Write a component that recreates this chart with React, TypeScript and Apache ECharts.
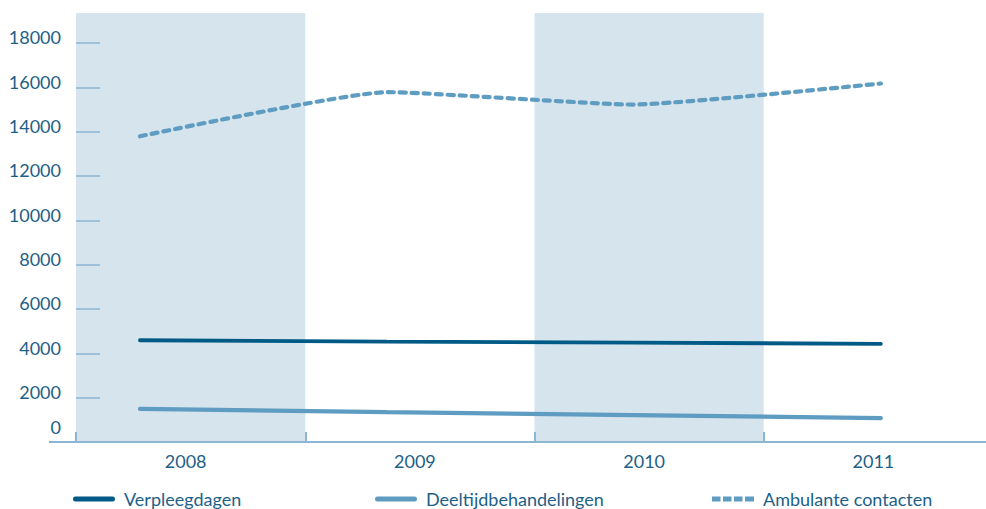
import React, { useEffect, useRef } from "react";
import * as echarts from "echarts";

const years = ["2008", "2009", "2010", "2011"];
const yearValues = [2008, 2009, 2010, 2011];
const verpleegdagen = [4590, 4530, 4480, 4430];
const deeltijdbehandelingen = [1490, 1350, 1215, 1080];
const ambulanteContacten = [13790, 15780, 15220, 16170];
const yTickValues = [0, 2000, 4000, 6000, 8000, 10000, 12000, 14000, 16000, 18000];
const seriesNames = ["Verpleegdagen", "Deeltijdbehandelingen", "Ambulante contacten"];

const TEXT = "#1d5f87";
const AXIS = "#8cb5d2";
const BAND = "#d6e4ee";
const DARK = "#005a86";
const LIGHT = "#5e9cc1";
const FONT = "Lato, 'Open Sans', sans-serif";

const SOLID_ICON = "path://M2.5,0H39.5A2.5,2.5 0 0 1 39.5,5H2.5A2.5,2.5 0 0 1 2.5,0Z";
const DASH_ICON =
  "path://M0,0h8.5v5h-8.5z M11,0h8.5v5h-8.5z M22,0h8.5v5h-8.5z M33,0h9v5h-9z";

export default function App() {
  const ref = useRef<HTMLDivElement>(null);
  useEffect(() => {
    if (!ref.current) return;
    const chart = echarts.init(ref.current, undefined, { renderer: "svg" });
    const pair = (vals: number[]) => vals.map((v, i) => [yearValues[i], v]);
    const legendBase = (name: string, left: number, icon: string) => ({
      data: [{ name, icon }],
      left,
      top: 490,
      padding: 0,
      orient: "horizontal",
      itemWidth: 42,
      itemHeight: 5,
      textStyle: { color: TEXT, fontSize: 18, fontFamily: FONT, padding: [0, 0, 0, 4] },
      selectedMode: false,
    });
    chart.setOption({
      animation: false,
      backgroundColor: "#ffffff",
      textStyle: { fontFamily: FONT },
      grid: {
        left: 76,
        width: 917,
        top: 13,
        bottom: 67,
        containLabel: false,
        outerBoundsMode: "none",
      },
      legend: [
        legendBase(seriesNames[0], 73, SOLID_ICON),
        legendBase(seriesNames[1], 375, SOLID_ICON),
        legendBase(seriesNames[2], 712, DASH_ICON),
      ],
      xAxis: [
        {
          type: "category",
          data: years,
          boundaryGap: true,
          axisLine: { show: true, lineStyle: { color: AXIS, width: 2 } },
          axisTick: { show: true, inside: true, length: 10, interval: 0, lineStyle: { color: AXIS, width: 2 } },
          axisLabel: { color: TEXT, fontSize: 18, fontFamily: FONT, margin: 10, padding: [0, 10, 0, 0] },
          splitLine: { show: false },
          splitArea: { show: true, interval: 0, areaStyle: { color: [BAND, "rgba(255,255,255,0)"] } },
        },
        {
          type: "value",
          show: false,
          min: 2007.741,
          max: 2011.454,
          splitLine: { show: false },
        },
      ],
      yAxis: {
        type: "value",
        min: 0,
        max: 19350,
        interval: 2000,
        axisLine: { show: false },
        axisTick: {
          show: true,
          inside: true,
          length: 24,
          customValues: yTickValues.slice(1),
          lineStyle: { color: AXIS, width: 1.5 },
        },
        axisLabel: {
          color: TEXT,
          fontSize: 18,
          fontFamily: FONT,
          margin: 15,
          customValues: yTickValues,
          formatter: (v: number) => (v === 0 ? "{z|0}" : "{n|" + v + "}"),
          rich: {
            n: { color: TEXT, fontSize: 18, fontFamily: FONT, padding: [0, 0, 11, 0] },
            z: { color: TEXT, fontSize: 18, fontFamily: FONT, padding: [0, 0, 30, 0] },
          },
        },
        splitLine: { show: false },
      },
      graphic: [
        {
          type: "line",
          shape: { x1: 49, y1: 442, x2: 77, y2: 442 },
          style: { stroke: AXIS, lineWidth: 2 },
          silent: true,
        },
      ],
      series: [
        {
          name: seriesNames[0],
          type: "line",
          xAxisIndex: 1,
          data: pair(verpleegdagen),
          symbol: "none",
          lineStyle: { color: DARK, width: 3.8, cap: "round" },
          itemStyle: { color: DARK },
        },
        {
          name: seriesNames[1],
          type: "line",
          xAxisIndex: 1,
          data: pair(deeltijdbehandelingen),
          symbol: "none",
          lineStyle: { color: LIGHT, width: 4.2, cap: "round" },
          itemStyle: { color: LIGHT },
        },
        {
          name: seriesNames[2],
          type: "line",
          xAxisIndex: 1,
          data: pair(ambulanteContacten),
          symbol: "none",
          smooth: 0.15,
          lineStyle: { color: LIGHT, width: 4.2, type: [6, 6], cap: "round" },
          itemStyle: { color: LIGHT },
        },
      ],
    });
    return () => chart.dispose();
  }, []);
  return (
    <div
      ref={ref}
      style={{ position: "fixed", left: 0, top: 0, width: 986, height: 509, background: "#fff" }}
    />
  );
}
